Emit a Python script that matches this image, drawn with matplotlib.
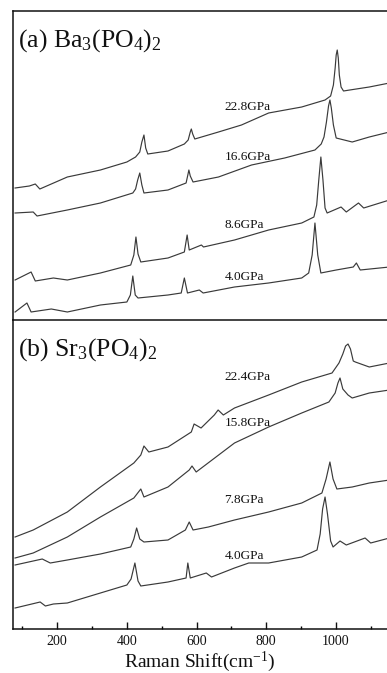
import matplotlib
matplotlib.use("Agg")
import matplotlib.pyplot as plt

plt.rcParams['font.family'] = ['Liberation Serif', 'DejaVu Serif']
plt.rcParams['mathtext.fontset'] = 'custom'
plt.rcParams['mathtext.rm'] = 'Liberation Serif'
plt.rcParams['mathtext.it'] = 'Liberation Serif:italic'

# ---------------- data (wavenumber cm^-1, intensity a.u.) ----------------
# Panel (a) Ba3(PO4)2
ba_228_x = [79, 120, 137, 150, 229, 324, 400, 425, 437, 443, 449, 454, 460, 518, 565, 576, 582, 585, 589, 595,
            663, 729, 807, 902, 969, 985, 993, 998, 1001, 1004, 1007, 1010, 1015, 1022, 1040, 1096, 1154]
ba_228_y = [132, 134, 136, 131, 143, 150, 158, 163, 168, 178, 185, 172, 166, 169, 176, 180, 188, 191, 186, 181,
            188, 195, 207, 213, 220, 224, 235, 252, 265, 270, 262, 245, 233, 229, 230, 233, 237]

ba_166_x = [79, 131, 142, 229, 324, 417, 425, 431, 437, 443, 449, 518, 570, 575, 578, 582, 590, 663, 758, 853,
            940, 958, 966, 973, 979, 983, 987, 993, 1001, 1047, 1096, 1154]
ba_166_y = [107, 108, 104, 110, 117, 127, 131, 140, 147, 135, 127, 130, 137, 145, 150, 144, 138, 143, 155, 162,
            170, 176, 183, 198, 214, 220, 212, 195, 182, 178, 183, 188]

ba_86_x = [79, 125, 137, 189, 229, 324, 411, 420, 426, 432, 440, 518, 565, 573, 579, 614, 620, 709, 807, 902,
           937, 945, 951, 957, 963, 969, 975, 1015, 1030, 1065, 1080, 1154]
ba_86_y = [40, 48, 39, 42, 40, 47, 55, 65, 83, 66, 58, 62, 68, 85, 70, 75, 73, 80, 90, 97,
           103, 115, 140, 163, 140, 112, 107, 113, 108, 117, 112, 120]

ba_40_x = [79, 113, 125, 183, 229, 324, 400, 410, 417, 424, 432, 518, 556, 565, 574, 608, 619, 709, 807, 902,
           922, 932, 940, 948, 957, 1001, 1050, 1059, 1070, 1154]
ba_40_y = [8, 17, 8, 11, 8, 15, 18, 25, 44, 25, 22, 25, 27, 42, 27, 30, 27, 33, 37, 42,
           47, 65, 97, 65, 47, 50, 53, 57, 50, 53]

# Panel (b) Sr3(PO4)2
sr_224_x = [79, 131, 229, 324, 420, 440, 449, 463, 518, 585, 593, 613, 651, 662, 677, 709, 807, 902, 989, 1009,
            1020, 1028, 1035, 1042, 1050, 1056, 1096, 1154]
sr_224_y = [92, 99, 117, 142, 166, 174, 183, 177, 182, 197, 205, 201, 214, 219, 214, 221, 234, 247, 256, 266,
            275, 283, 285, 280, 268, 267, 262, 266]

sr_158_x = [79, 131, 229, 324, 420, 440, 449, 518, 579, 587, 599, 709, 807, 902, 980, 998, 1006, 1012, 1020,
            1035, 1047, 1096, 1154]
sr_158_y = [71, 76, 92, 112, 131, 140, 132, 142, 159, 163, 157, 186, 202, 216, 227, 236, 246, 251, 240,
            234, 231, 236, 239]

sr_78_x = [79, 157, 180, 229, 324, 411, 420, 428, 437, 449, 518, 568, 579, 590, 634, 709, 807, 902, 960, 972,
           983, 992, 1003, 1047, 1096, 1154]
sr_78_y = [64, 70, 66, 69, 75, 82, 90, 101, 90, 87, 89, 99, 107, 99, 102, 109, 117, 126, 136, 150,
           167, 150, 140, 142, 146, 149]

sr_40_x = [79, 151, 166, 189, 229, 324, 400, 412, 423, 432, 440, 518, 570, 575, 582, 628, 643, 709, 750, 807,
           902, 946, 955, 962, 969, 976, 985, 992, 1012, 1030, 1084, 1100, 1154]
sr_40_y = [21, 27, 23, 25, 26, 36, 44, 50, 66, 48, 43, 47, 51, 66, 51, 56, 52, 61, 66, 66,
           72, 79, 95, 120, 132, 115, 88, 82, 88, 84, 91, 86, 91]

panel_titles = [r'(a) Ba$_3$(PO$_4$)$_2$', r'(b) Sr$_3$(PO$_4$)$_2$']
ba_series = [(ba_228_x, ba_228_y), (ba_166_x, ba_166_y), (ba_86_x, ba_86_y), (ba_40_x, ba_40_y)]
sr_series = [(sr_224_x, sr_224_y), (sr_158_x, sr_158_y), (sr_78_x, sr_78_y), (sr_40_x, sr_40_y)]
ba_labels = ['22.8GPa', '16.6GPa', '8.6GPa', '4.0GPa']
sr_labels = ['22.4GPa', '15.8GPa', '7.8GPa', '4.0GPa']
ba_label_y = [213, 163, 95, 43]
sr_label_y = [252, 206, 129, 73]
label_x = 680
xticks = [200, 400, 600, 800, 1000]
x_label = r'Raman Shift(cm$^{\mathregular{-1}}$)'

# ---------------- figure ----------------
W, H = 387, 673
fig = plt.figure(figsize=(W / 100, H / 100), dpi=100)
left = 13 / W
width = 1.0 - left + 0.01
top_a, div, bot_b = 11, 320, 629
ax_a = fig.add_axes([left, 1 - div / H, width, (div - top_a) / H])
ax_b = fig.add_axes([left, 1 - bot_b / H, width, (bot_b - div) / H])

line_color = '#3a3a3a'
for ax, series, labels, ly, title in [(ax_a, ba_series, ba_labels, ba_label_y, panel_titles[0]),
                                      (ax_b, sr_series, sr_labels, sr_label_y, panel_titles[1])]:
    ax.patch.set_alpha(0)
    for (xs, ys) in series:
        ax.plot(xs, ys, color=line_color, lw=0.85)
    for lab, yy in zip(labels, ly):
        ax.text(label_x, yy, lab, fontsize=9.5, ha='left', va='center', color='#111111')
    ax.text(0.013, 0.905, title, transform=ax.transAxes, fontsize=18.5, ha='left', va='center',
            color='#111111')
    ax.set_xlim(73, 1158)
    ax.set_ylim(0, 309)
    ax.set_yticks([])
    ax.spines['right'].set_visible(False)
    for s in ax.spines.values():
        s.set_linewidth(1.1)
        s.set_color('#111111')

ax_a.set_xticks([])
ax_a.tick_params(axis='x', which='both', bottom=False, labelbottom=False)
ax_b.spines['top'].set_visible(False)
ax_b.set_xticks(xticks)
ax_b.set_xticks([100, 300, 500, 700, 900, 1100], minor=True)
ax_b.tick_params(axis='x', which='major', direction='in', length=5, width=1.0, pad=4, labelsize=10,
                 colors='#111111')
ax_b.tick_params(axis='x', which='minor', direction='in', length=2.5, width=1.0)

fig.text(200 / W, 1 - 662 / H, x_label, ha='center', va='center', fontsize=14, color='#111111')

fig.savefig('out.png', dpi=100)
